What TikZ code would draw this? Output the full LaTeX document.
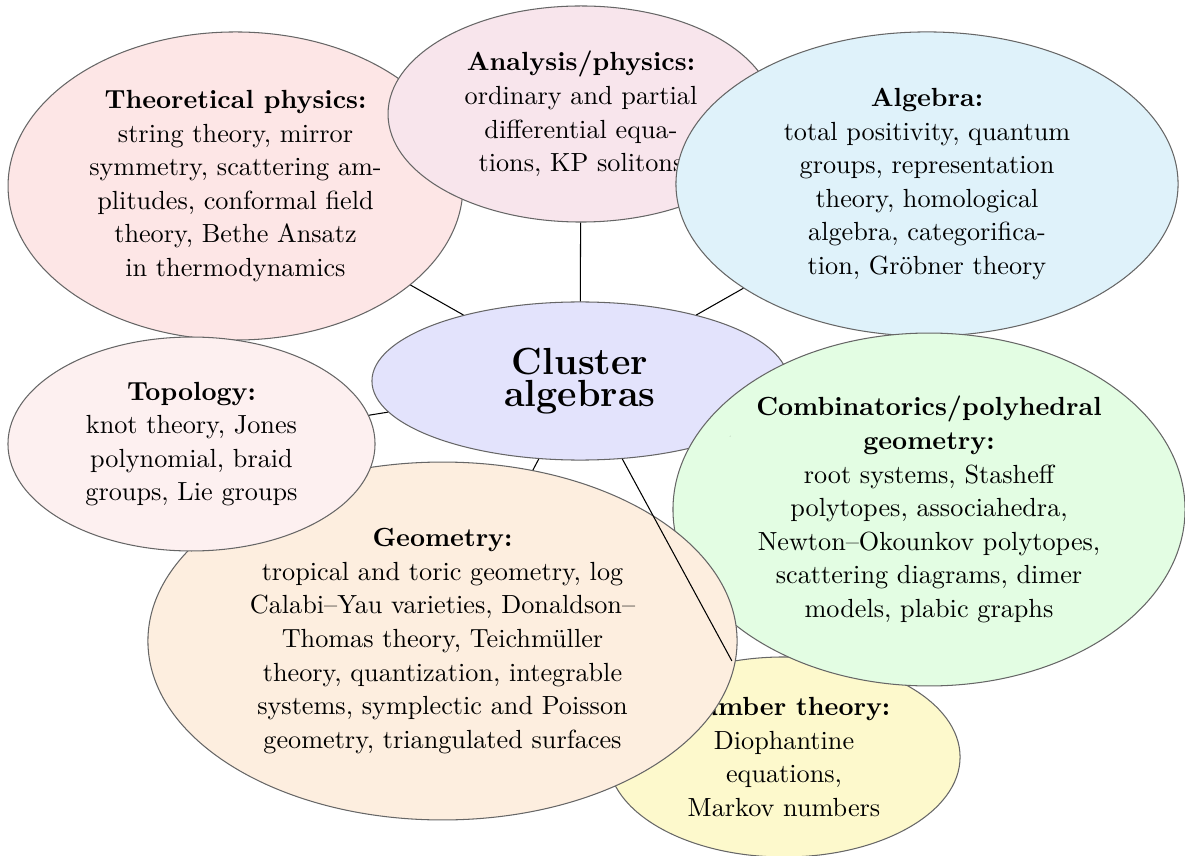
\documentclass[tikz,border=0pt]{standalone}
\usetikzlibrary{shapes.geometric,calc}
\definecolor{tpcol}{RGB}{253,230,230}
\definecolor{ancol}{RGB}{248,229,236}
\definecolor{alcol}{RGB}{223,242,250}
\definecolor{clcol}{RGB}{227,227,252}
\definecolor{cocol}{RGB}{227,253,227}
\definecolor{tocol}{RGB}{253,240,240}
\definecolor{gecol}{RGB}{253,238,223}
\definecolor{ntcol}{RGB}{253,249,204}
\tikzset{topic/.style={shape=ellipse,draw=black!60,line width=0.4pt,align=center,inner sep=0pt,
  font=\fontsize{10}{12.8}\selectfont}}
\begin{document}
\begin{tikzpicture}[x=0.3814pt,y=-0.3814pt]
\useasboundingbox (0,0) rectangle (1185,856);
\node(tp) at (235.5,186)[topic,fill=tpcol,minimum width=173.5pt,minimum height=117.5pt]
  {\textbf{Theoretical physics:}\\ string theory, mirror\\ symmetry, scattering am-\\ plitudes, conformal field\\ theory, Bethe Ansatz\\ in thermodynamics};
\node(an) at (581,114)[topic,fill=ancol,minimum width=147.2pt,minimum height=82.4pt]
  {\textbf{Analysis/physics:}\\ ordinary and partial\\ differential equa-\\ tions, KP solitons};
\node(al) at (927,184)[topic,fill=alcol,minimum width=191.5pt,minimum height=116pt]
  {\textbf{Algebra:}\\ total positivity, quantum\\ groups, representation\\ theory, homological\\ algebra, categorifica-\\ tion, Gröbner theory};
\node(cl) at (580,381)[topic,fill=clcol,minimum width=158.7pt,minimum height=60.3pt,
  font=\fontsize{14.4}{12.4}\selectfont\bfseries]
  {Cluster\\ algebras};
\node(nt) at (784,757)[topic,fill=ntcol,minimum width=134.3pt,minimum height=76.3pt]
  {\textbf{Number theory:}\\ Diophantine\\ equations,\\ Markov numbers};
\node(co) at (929,509.5)[topic,fill=cocol,minimum width=195.3pt,minimum height=134.6pt]
  {\textbf{Combinatorics/polyhedral}\\ \textbf{geometry:}\\ root systems, Stasheff\\ polytopes, associahedra,\\ Newton--Okounkov polytopes,\\ scattering diagrams, dimer\\ models, plabic graphs};
\node(ge) at (442.5,641)[topic,fill=gecol,minimum width=224.7pt,minimum height=136.5pt]
  {\textbf{Geometry:}\\ tropical and toric geometry, log\\ Calabi--Yau varieties, Donaldson--\\ Thomas theory, Teichmüller\\ theory, quantization, integrable\\ systems, symplectic and Poisson\\ geometry, triangulated surfaces};
\node(to) at (191.5,444)[topic,fill=tocol,minimum width=140pt,minimum height=81.6pt]
  {\textbf{Topology:}\\ knot theory, Jones\\ polynomial, braid\\ groups, Lie groups};
\coordinate(coend) at ($(cl)!0.43!(co)$);
\path [-]
  (cl)      edge      (tp)
  (cl)      edge      (an)
  (cl)      edge      (al)
  (cl)      edge      (to)
  (cl)      edge      (ge)
  (cl)      edge      (nt)
  (cl)      edge      (coend);
\end{tikzpicture}
\end{document}
